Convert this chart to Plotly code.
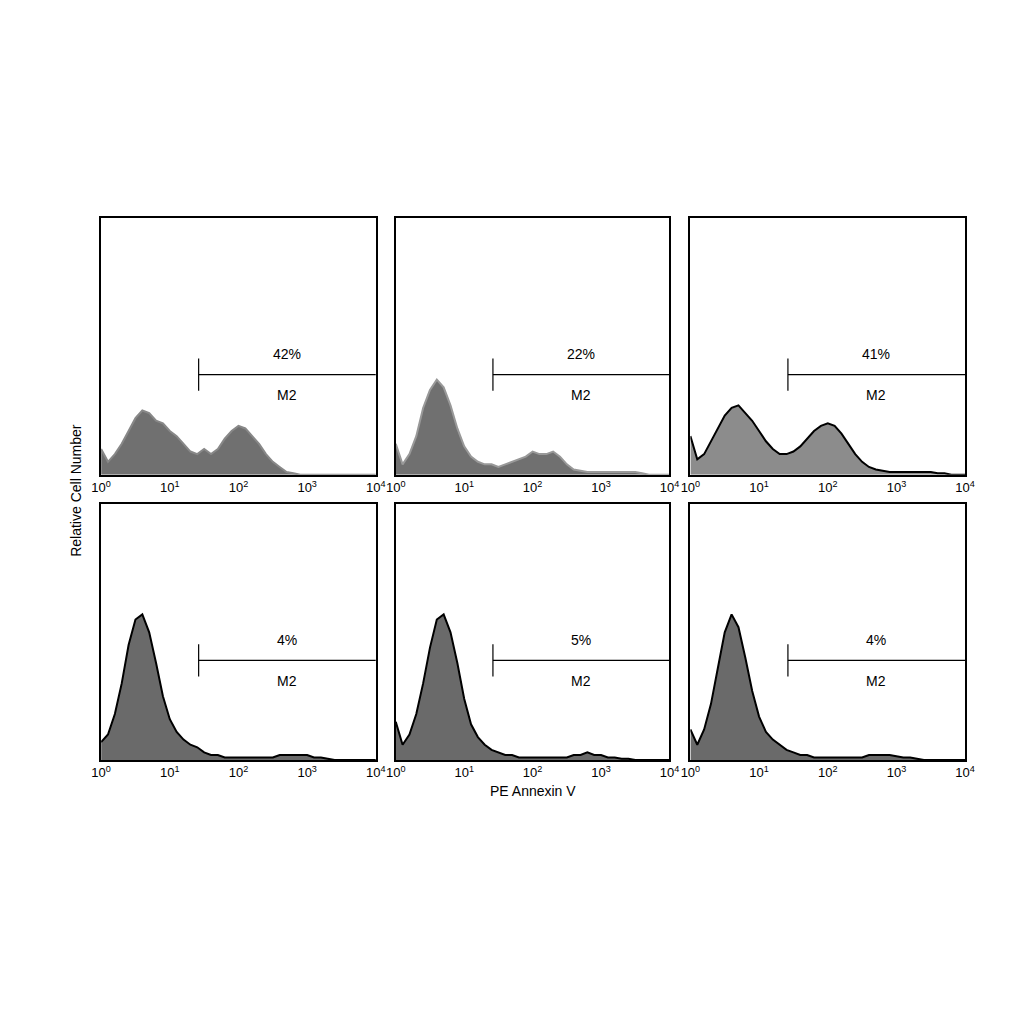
import plotly.graph_objects as go

log_bins = [i/10 for i in range(41)]
p1 = [0.10,0.05,0.08,0.12,0.17,0.22,0.25,0.24,0.21,0.20,0.17,0.15,0.12,0.09,0.08,0.10,0.08,0.10,0.14,0.17,0.19,0.18,0.15,0.12,0.08,0.05,0.03,0.01,0.005,0,0,0,0,0,0,0,0,0,0,0,0]
p2 = [0.12,0.04,0.08,0.15,0.26,0.33,0.37,0.34,0.27,0.18,0.11,0.07,0.05,0.04,0.04,0.03,0.04,0.05,0.06,0.07,0.09,0.08,0.08,0.09,0.07,0.04,0.02,0.015,0.01,0.01,0.01,0.01,0.01,0.01,0.01,0.01,0.005,0,0,0,0]
p3 = [0.15,0.06,0.08,0.13,0.18,0.23,0.26,0.27,0.24,0.21,0.17,0.13,0.10,0.08,0.08,0.09,0.11,0.14,0.17,0.19,0.20,0.19,0.16,0.12,0.08,0.05,0.03,0.02,0.015,0.01,0.01,0.01,0.01,0.01,0.01,0.01,0.005,0.005,0,0,0]
p4 = [0.07,0.10,0.18,0.30,0.45,0.55,0.57,0.50,0.38,0.25,0.16,0.11,0.08,0.06,0.05,0.03,0.02,0.02,0.01,0.01,0.01,0.01,0.01,0.01,0.01,0.01,0.02,0.02,0.02,0.02,0.02,0.01,0.01,0.005,0,0,0,0,0,0,0]
p5 = [0.15,0.06,0.10,0.18,0.30,0.44,0.55,0.57,0.50,0.38,0.24,0.14,0.09,0.06,0.04,0.03,0.02,0.02,0.01,0.01,0.01,0.01,0.01,0.01,0.01,0.01,0.02,0.02,0.03,0.02,0.02,0.01,0.01,0.005,0.005,0,0,0,0,0,0]
p6 = [0.12,0.06,0.12,0.22,0.36,0.50,0.57,0.52,0.40,0.27,0.17,0.11,0.08,0.06,0.04,0.03,0.02,0.02,0.01,0.01,0.01,0.01,0.01,0.01,0.01,0.01,0.02,0.02,0.02,0.02,0.015,0.01,0.01,0.005,0,0,0,0,0,0,0]
series = [p1, p2, p3, p4, p5, p6]
percents = ["42%", "22%", "41%", "4%", "5%", "4%"]
gate_start = 10**1.42
tick_vals = [1, 10, 100, 1000, 10000]
tick_text = ["10<sup>0</sup>", "10<sup>1</sup>", "10<sup>2</sup>", "10<sup>3</sup>", "10<sup>4</sup>"]

fills = ["#707070", "#707070", "#8c8c8c", "#6a6a6a", "#6a6a6a", "#6a6a6a"]
lines = ["#888888", "#999999", "black", "black", "black", "black"]

def px(p):
    return ((p - 14.5) / 0.985) / 1024

def py(p):
    return 1 - ((p - 4.8) / 1.0055) / 1024

xdoms = [(98, 374), (394, 669), (690, 966)]
ydoms = [(216, 474), (504, 761)]

fig = go.Figure()
for i, vals in enumerate(series):
    r, c = divmod(i, 3)
    n = i + 1
    xa = "x" if n == 1 else f"x{n}"
    ya = "y" if n == 1 else f"y{n}"
    fig.add_trace(go.Scatter(x=[10**v for v in log_bins], y=vals, mode="lines", line_shape="linear",
                             fill="tozeroy", fillcolor=fills[i], line=dict(color=lines[i], width=2),
                             xaxis=xa, yaxis=ya, showlegend=False))
    x0, x1 = xdoms[c]; y0, y1 = ydoms[r]
    fig.layout[f"xaxis{n if n > 1 else ''}"] = dict(type="log", range=[0, 4], domain=[px(x0), px(x1)],
        tickvals=tick_vals, ticktext=tick_text, ticks="", showgrid=False, zeroline=False,
        showline=True, mirror=True, linecolor="black", linewidth=1.5, anchor=ya,
        tickfont=dict(size=13, color="black"))
    fig.layout[f"yaxis{n if n > 1 else ''}"] = dict(range=[0, 1], domain=[py(y1), py(y0)],
        showticklabels=False, ticks="", showgrid=False, zeroline=False,
        showline=True, mirror=True, linecolor="black", linewidth=1.5, anchor=xa)
    fig.add_shape(type="line", xref=xa, yref=ya, x0=gate_start, x1=10**4, y0=0.39, y1=0.39, line=dict(color="black", width=1.2))
    fig.add_shape(type="line", xref=xa, yref=ya, x0=gate_start, x1=gate_start, y0=0.327, y1=0.453, line=dict(color="black", width=1.2))
    fig.add_annotation(x=2.7, y=0.43, xref=xa, yref=ya, text=percents[i], showarrow=False, yanchor="bottom", font=dict(size=14, color="black"))
    fig.add_annotation(x=2.7, y=0.35, xref=xa, yref=ya, text="M2", showarrow=False, yanchor="top", font=dict(size=14, color="black"))

fig.add_annotation(x=px(62), y=py(490), xref="paper", yref="paper", text="Relative Cell Number", textangle=-90, showarrow=False, font=dict(size=14, color="black"))
fig.add_annotation(x=px(532), y=py(802), xref="paper", yref="paper", text="PE Annexin V", showarrow=False, font=dict(size=14, color="black"))

fig.update_layout(width=1024, height=1024, margin=dict(l=0, r=0, t=0, b=0), plot_bgcolor="white", paper_bgcolor="white",
                  font=dict(family="Liberation Sans, Arial", color="black"))
fig.write_html("out.html")
